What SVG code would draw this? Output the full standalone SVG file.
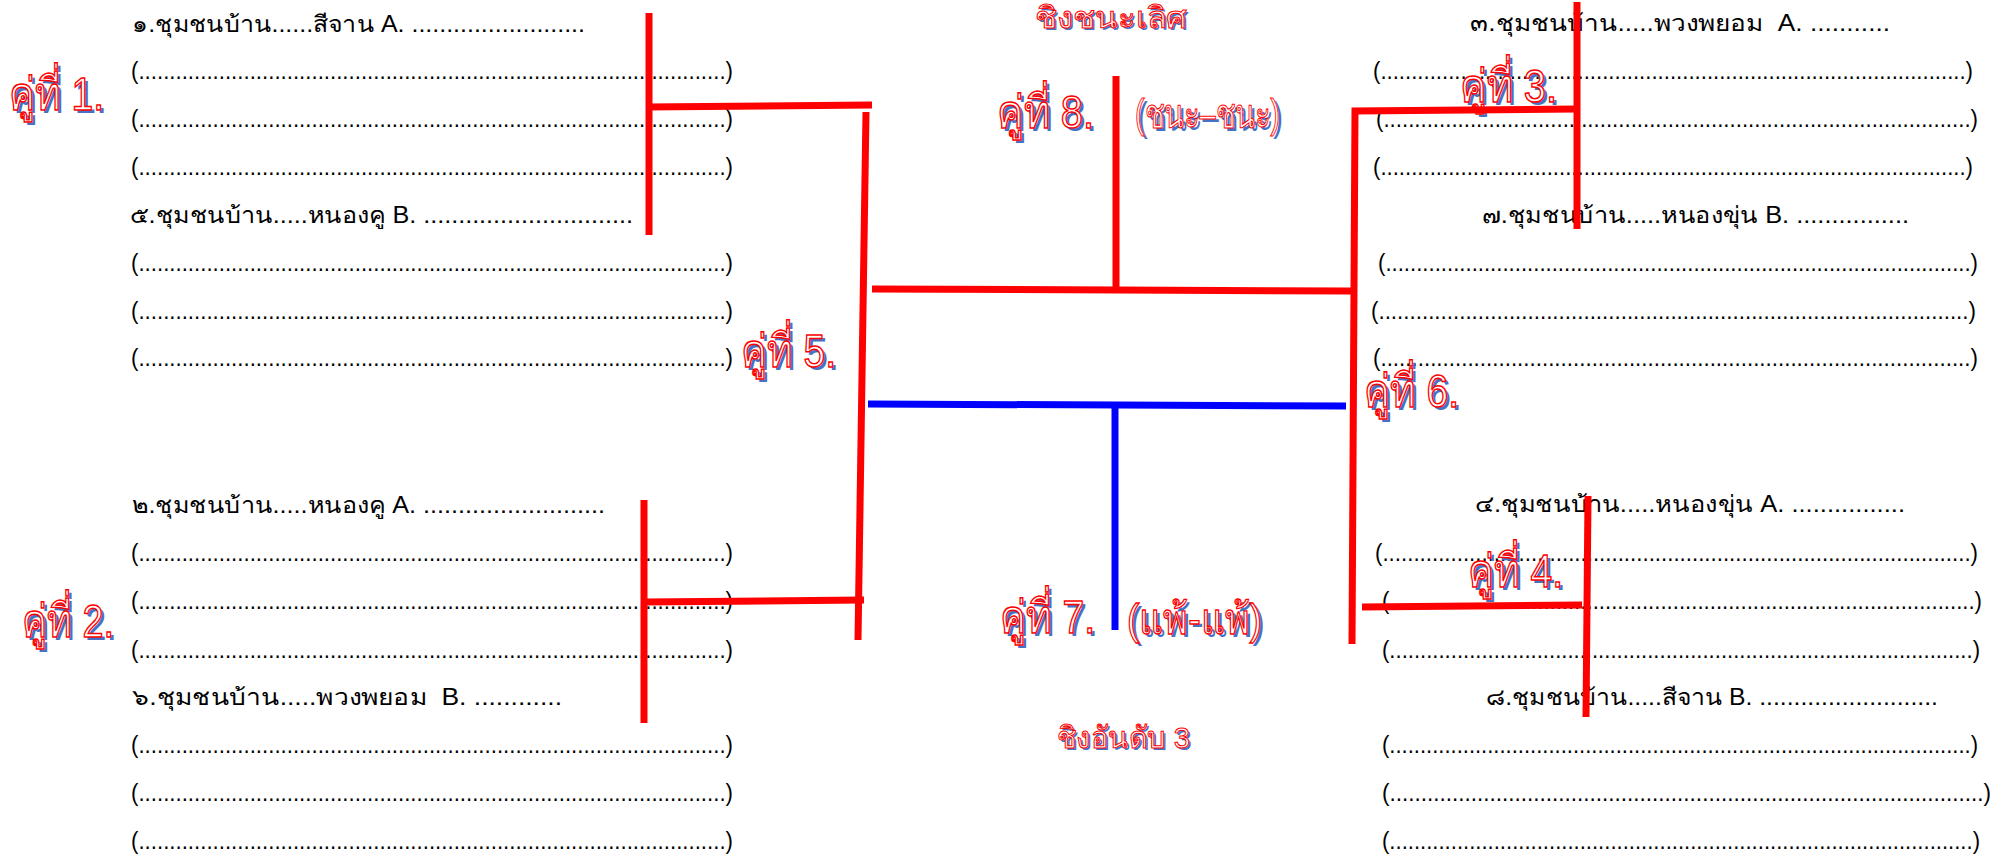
<svg xmlns="http://www.w3.org/2000/svg" width="1995" height="857" viewBox="0 0 1995 857">
<style>
.t{font-family:"Liberation Sans","Noto Sans",sans-serif;font-size:23px;fill:#000}
.sh{font-family:"Liberation Sans","Noto Sans",sans-serif;fill:#4472C4}
.lb{font-family:"Liberation Sans","Noto Sans",sans-serif;fill:#fff;stroke:#f00;stroke-width:1.5}
.L{font-size:46px}
.T{font-size:30px}
.c{fill:none;stroke:#f00;stroke-width:7;stroke-linecap:butt}
.b{stroke:#00f}
</style>
<rect width="1995" height="857" fill="#fff"/>
<g id="team1">
<text class="t" x="132" y="32" textLength="453" lengthAdjust="spacingAndGlyphs" xml:space="preserve">๑.ชุมชนบ้าน......สีจาน A. .........................</text>
<text class="t" x="131" y="79" textLength="602" lengthAdjust="spacingAndGlyphs">(...............................................................................................)</text>
<text class="t" x="131" y="127" textLength="602" lengthAdjust="spacingAndGlyphs">(...............................................................................................)</text>
<text class="t" x="131" y="175" textLength="602" lengthAdjust="spacingAndGlyphs">(...............................................................................................)</text>
</g>
<g id="team5">
<text class="t" x="130" y="223" textLength="503" lengthAdjust="spacingAndGlyphs" xml:space="preserve">๕.ชุมชนบ้าน.....หนองคู B. ..............................</text>
<text class="t" x="131" y="271" textLength="602" lengthAdjust="spacingAndGlyphs">(...............................................................................................)</text>
<text class="t" x="131" y="319" textLength="602" lengthAdjust="spacingAndGlyphs">(...............................................................................................)</text>
<text class="t" x="131" y="366" textLength="602" lengthAdjust="spacingAndGlyphs">(...............................................................................................)</text>
</g>
<g id="team2">
<text class="t" x="132" y="513" textLength="473" lengthAdjust="spacingAndGlyphs" xml:space="preserve">๒.ชุมชนบ้าน.....หนองคู A. ..........................</text>
<text class="t" x="131" y="561" textLength="602" lengthAdjust="spacingAndGlyphs">(...............................................................................................)</text>
<text class="t" x="131" y="609" textLength="602" lengthAdjust="spacingAndGlyphs">(...............................................................................................)</text>
<text class="t" x="131" y="658" textLength="602" lengthAdjust="spacingAndGlyphs">(...............................................................................................)</text>
</g>
<g id="team6">
<text class="t" x="132" y="705" textLength="430" lengthAdjust="spacingAndGlyphs" xml:space="preserve">๖.ชุมชนบ้าน.....พวงพยอม  B. ............</text>
<text class="t" x="131" y="753" textLength="602" lengthAdjust="spacingAndGlyphs">(...............................................................................................)</text>
<text class="t" x="131" y="801" textLength="602" lengthAdjust="spacingAndGlyphs">(...............................................................................................)</text>
<text class="t" x="131" y="849" textLength="602" lengthAdjust="spacingAndGlyphs">(...............................................................................................)</text>
</g>
<g id="team3">
<text class="t" x="1470" y="31" textLength="420" lengthAdjust="spacingAndGlyphs" xml:space="preserve">๓.ชุมชนบ้าน.....พวงพยอม  A. ...........</text>
<text class="t" x="1373" y="79" textLength="600" lengthAdjust="spacingAndGlyphs">(...............................................................................................)</text>
<text class="t" x="1376" y="127" textLength="602" lengthAdjust="spacingAndGlyphs">(...............................................................................................)</text>
<text class="t" x="1373" y="175" textLength="600" lengthAdjust="spacingAndGlyphs">(...............................................................................................)</text>
</g>
<g id="team7">
<text class="t" x="1482" y="223" textLength="427" lengthAdjust="spacingAndGlyphs" xml:space="preserve">๗.ชุมชนบ้าน.....หนองขุ่น B. ................</text>
<text class="t" x="1378" y="271" textLength="600" lengthAdjust="spacingAndGlyphs">(...............................................................................................)</text>
<text class="t" x="1371" y="319" textLength="605" lengthAdjust="spacingAndGlyphs">(...............................................................................................)</text>
<text class="t" x="1373" y="366" textLength="605" lengthAdjust="spacingAndGlyphs">(...............................................................................................)</text>
</g>
<g id="team4">
<text class="t" x="1475" y="512" textLength="430" lengthAdjust="spacingAndGlyphs" xml:space="preserve">๔.ชุมชนบ้าน.....หนองขุ่น A. ................</text>
<text class="t" x="1375" y="561" textLength="603" lengthAdjust="spacingAndGlyphs">(...............................................................................................)</text>
<text class="t" x="1382" y="609" textLength="600" lengthAdjust="spacingAndGlyphs">(...............................................................................................)</text>
<text class="t" x="1382" y="658" textLength="598" lengthAdjust="spacingAndGlyphs">(...............................................................................................)</text>
</g>
<g id="team8">
<text class="t" x="1486" y="705" textLength="452" lengthAdjust="spacingAndGlyphs" xml:space="preserve">๘.ชุมชนบ้าน.....สีจาน B. ..........................</text>
<text class="t" x="1382" y="753" textLength="596" lengthAdjust="spacingAndGlyphs">(...............................................................................................)</text>
<text class="t" x="1382" y="801" textLength="609" lengthAdjust="spacingAndGlyphs">(...............................................................................................)</text>
<text class="t" x="1382" y="849" textLength="598" lengthAdjust="spacingAndGlyphs">(...............................................................................................)</text>
</g>
<g id="pair1"><text class="sh L" x="12" y="113" textLength="95" lengthAdjust="spacingAndGlyphs">คู่ที่ 1.</text><text class="lb L" x="9" y="110" textLength="95" lengthAdjust="spacingAndGlyphs">คู่ที่ 1.</text></g>
<g id="pair5"><text class="sh L" x="744" y="370" textLength="95" lengthAdjust="spacingAndGlyphs">คู่ที่ 5.</text><text class="lb L" x="741" y="367" textLength="95" lengthAdjust="spacingAndGlyphs">คู่ที่ 5.</text></g>
<g id="pair2"><text class="sh L" x="25" y="640" textLength="92" lengthAdjust="spacingAndGlyphs">คู่ที่ 2.</text><text class="lb L" x="22" y="637" textLength="92" lengthAdjust="spacingAndGlyphs">คู่ที่ 2.</text></g>
<g id="pair8"><text class="sh L" x="1000" y="131" textLength="97" lengthAdjust="spacingAndGlyphs">คู่ที่ 8.</text><text class="lb L" x="997" y="128" textLength="97" lengthAdjust="spacingAndGlyphs">คู่ที่ 8.</text></g>
<g id="pair3"><text class="sh L" x="1463" y="105" textLength="97" lengthAdjust="spacingAndGlyphs">คู่ที่ 3.</text><text class="lb L" x="1460" y="102" textLength="97" lengthAdjust="spacingAndGlyphs">คู่ที่ 3.</text></g>
<g id="pair6"><text class="sh L" x="1367" y="410" textLength="95" lengthAdjust="spacingAndGlyphs">คู่ที่ 6.</text><text class="lb L" x="1364" y="407" textLength="95" lengthAdjust="spacingAndGlyphs">คู่ที่ 6.</text></g>
<g id="pair4"><text class="sh L" x="1471" y="590" textLength="95" lengthAdjust="spacingAndGlyphs">คู่ที่ 4.</text><text class="lb L" x="1468" y="587" textLength="95" lengthAdjust="spacingAndGlyphs">คู่ที่ 4.</text></g>
<g id="pair7"><text class="sh L" x="1003" y="636" textLength="95" lengthAdjust="spacingAndGlyphs">คู่ที่ 7.</text><text class="lb L" x="1000" y="633" textLength="95" lengthAdjust="spacingAndGlyphs">คู่ที่ 7.</text></g>
<g id="final"><text class="sh T" x="1037" y="30" textLength="152" lengthAdjust="spacingAndGlyphs">ชิงชนะเลิศ</text><text class="lb T" style="stroke-width:1" x="1035" y="28" textLength="152" lengthAdjust="spacingAndGlyphs">ชิงชนะเลิศ</text></g>
<g id="win"><text class="sh" style="font-size:40px" x="1138" y="131" textLength="145" lengthAdjust="spacingAndGlyphs">(ชนะ–ชนะ)</text><text class="lb" style="font-size:40px;stroke-width:1.1" x="1135" y="128" textLength="145" lengthAdjust="spacingAndGlyphs">(ชนะ–ชนะ)</text></g>
<g id="lose"><text class="sh" style="font-size:42px" x="1130" y="637" textLength="135" lengthAdjust="spacingAndGlyphs">(แพ้-แพ้)</text><text class="lb" style="font-size:42px;stroke-width:1.3" x="1127" y="634" textLength="135" lengthAdjust="spacingAndGlyphs">(แพ้-แพ้)</text></g>
<g id="third"><text class="sh T" x="1059" y="750" textLength="133" lengthAdjust="spacingAndGlyphs">ชิงอันดับ 3</text><text class="lb T" style="stroke-width:1" x="1057" y="748" textLength="133" lengthAdjust="spacingAndGlyphs">ชิงอันดับ 3</text></g>
<g id="connectors">
<line class="c" x1="649" y1="13" x2="649" y2="235"/>
<line class="c" x1="646" y1="107" x2="872" y2="105"/>
<line class="c" x1="866" y1="112" x2="858" y2="640"/>
<line class="c" x1="644" y1="500" x2="644" y2="723"/>
<line class="c" x1="644" y1="602" x2="864" y2="600"/>
<line class="c" x1="872" y1="289" x2="1351" y2="291"/>
<line class="c" x1="1116" y1="76" x2="1116" y2="289"/>
<polyline class="c" points="1352,644 1355,111 1577,109"/>
<line class="c" x1="1577" y1="2" x2="1577" y2="229"/>
<line class="c b" x1="868" y1="404" x2="1346" y2="406"/>
<line class="c b" x1="1115" y1="405" x2="1115" y2="630"/>
<line class="c" x1="1362" y1="607" x2="1582" y2="605"/>
<line class="c" x1="1588" y1="496" x2="1586" y2="717"/>
</g>
</svg>
